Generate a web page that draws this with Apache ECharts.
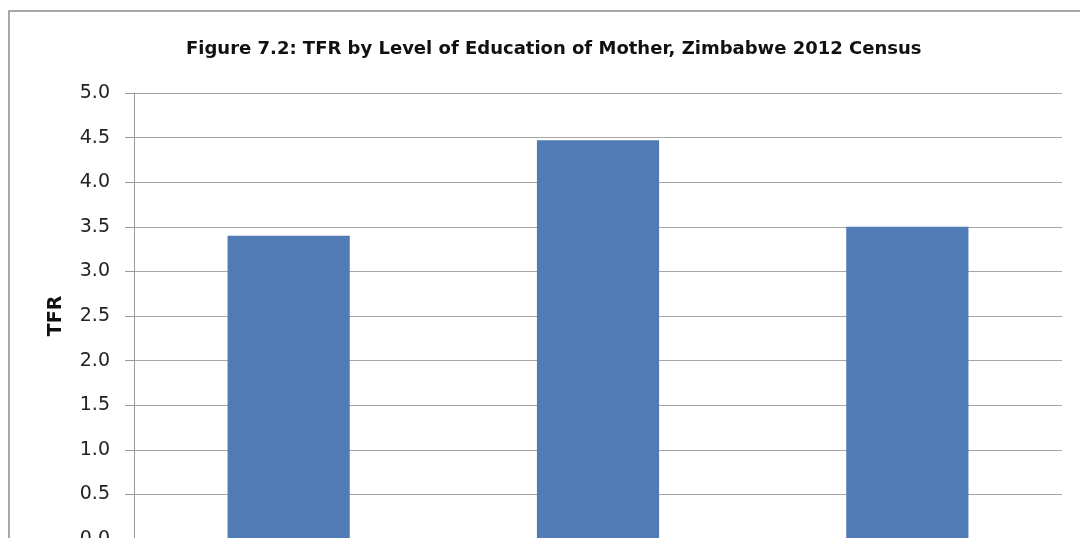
<!DOCTYPE html>
<html>
<head>
<meta charset="utf-8">
<script src="https://cdn.jsdelivr.net/npm/echarts@6/dist/echarts.min.js"></script>
<style>
  html, body { margin: 0; padding: 0; background: #fff; }
  #chart { width: 1080px; height: 538px; }
</style>
</head>
<body>
<div id="chart"></div>
<script>
  // data
  var categories = ['Primary', 'Secondary', 'Higher'];
  var tfrValues = [3.4, 4.47, 3.5];
  var titleText = 'Figure 7.2: TFR by Level of Education of Mother, Zimbabwe 2012 Census';

  var chart = echarts.init(document.getElementById('chart'));
  chart.setOption({
    backgroundColor: '#fff',
    animation: false,
    title: {
      text: titleText,
      left: 181,
      top: 35,
      textStyle: { fontFamily: 'DejaVu Sans', fontSize: 18, fontWeight: 'bold', color: '#111' }
    },
    // outer chart border (right and bottom edges are cut off)
    graphic: [{
      type: 'rect',
      shape: { x: 9, y: 11, width: 1200, height: 700 },
      style: { fill: 'none', stroke: '#8c8c8c', lineWidth: 1.5 },
      silent: true
    }],
    grid: { left: 134, right: 18, top: 93, bottom: -1, outerBoundsMode: 'none' },
    xAxis: {
      type: 'category',
      data: categories,
      axisLine: { lineStyle: { color: '#999' } },
      axisTick: { show: false },
      axisLabel: { show: false }
    },
    yAxis: {
      type: 'value',
      min: 0,
      max: 5,
      interval: 0.5,
      name: 'TFR',
      nameLocation: 'middle',
      nameGap: 68,
      nameTextStyle: { fontFamily: 'DejaVu Sans', fontSize: 19, fontWeight: 'bold', color: '#111' },
      axisLine: { show: true, lineStyle: { color: '#999' } },
      axisTick: { show: true, length: 9, lineStyle: { color: '#999' } },
      axisLabel: {
        margin: 24,
        fontFamily: 'DejaVu Sans',
        fontSize: 19,
        color: '#222',
        formatter: function (v) { return v.toFixed(1); }
      },
      splitLine: { lineStyle: { color: '#a6a6a6', width: 1.2 } }
    },
    series: [{
      type: 'bar',
      data: tfrValues,
      barWidth: '39.5%',
      itemStyle: { color: '#507bb5' }
    }]
  });
</script>
</body>
</html>
